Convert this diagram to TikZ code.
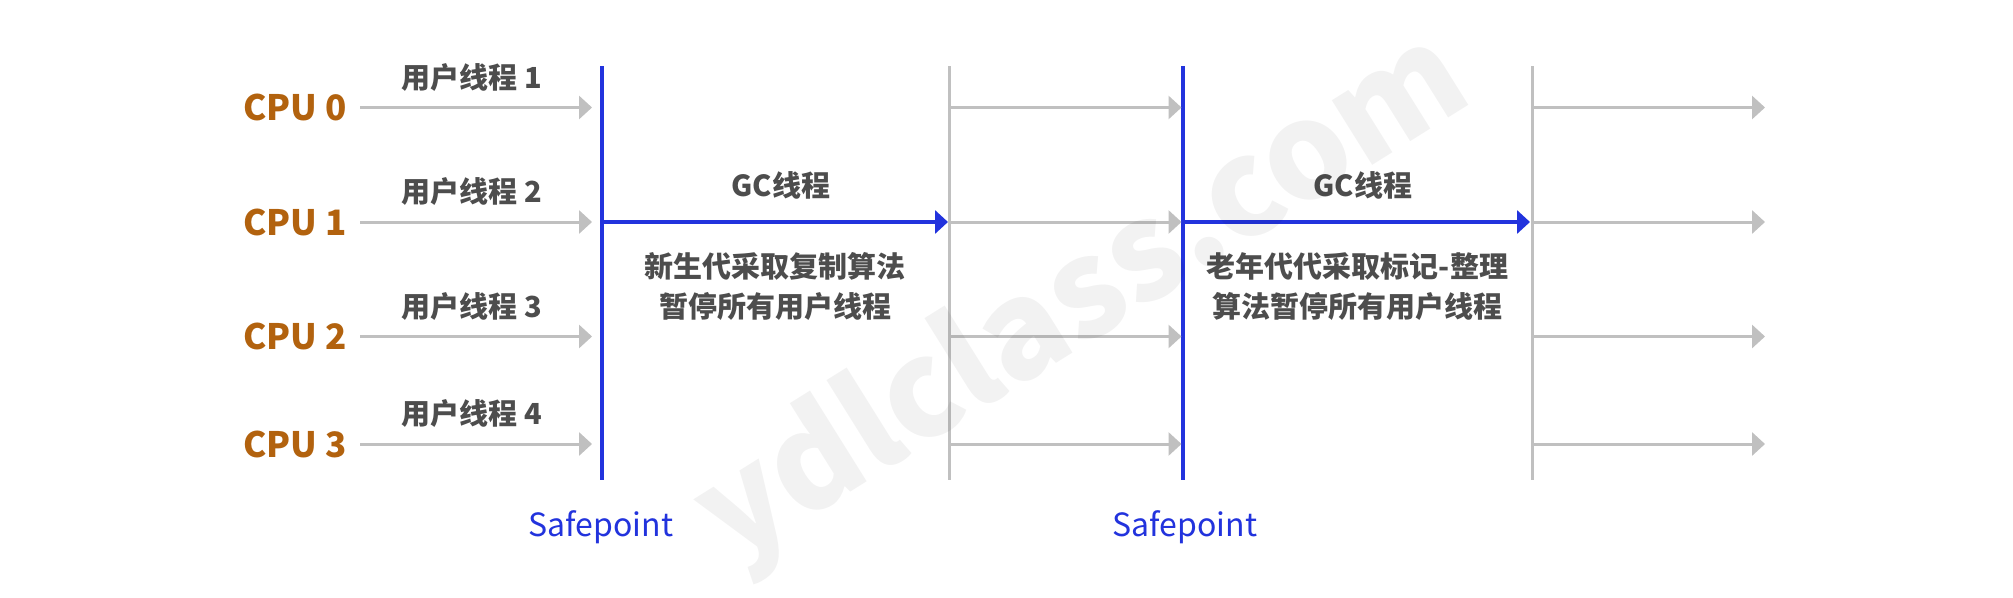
\documentclass[tikz,border=0pt]{standalone}
\usepackage{fontspec}
\setmainfont{Noto Sans CJK SC}
\usetikzlibrary{arrows.meta}
\definecolor{cpuc}{HTML}{B2620E}
\definecolor{txt}{HTML}{4D4D4D}
\definecolor{sblue}{HTML}{2233DD}
\definecolor{lgray}{HTML}{C0C0C0}
\tikzset{
  cpulabel/.style={anchor=east, inner sep=0pt, text=cpuc, font=\fontsize{35}{40}\selectfont\bfseries},
  thlabel/.style={inner sep=0pt, text=txt, font=\fontsize{29}{34}\selectfont\bfseries},
  desc/.style={inner sep=0pt, text=txt, align=center, font=\fontsize{29}{40}\selectfont\bfseries},
  splabel/.style={inner sep=0pt, text=sblue, font=\fontsize{32}{36}\selectfont},
  userarrow/.style={draw=lgray, line width=3pt, -{Triangle[length=13pt,width=23pt]}},
  gcarrow/.style={draw=sblue, line width=3.5pt, -{Triangle[length=13pt,width=23pt]}},
  safeline/.style={draw=sblue, line width=3.5pt},
  barline/.style={draw=lgray, line width=3pt},
  wm/.style={inner sep=0pt, text=black, opacity=0.05, rotate=32, font=\fontsize{134}{144}\selectfont\bfseries}
}
\begin{document}
\begin{tikzpicture}[x=1pt,y=-1pt]
\useasboundingbox[fill=white] (0,0) rectangle (2013,597);
% vertical lines
\coordinate (At) at (602,66);  \coordinate (Ab) at (602,480);
\coordinate (Bt) at (949,66);  \coordinate (Bb) at (949,480);
\coordinate (Ct) at (1183,66); \coordinate (Cb) at (1183,480);
\coordinate (Dt) at (1532,66); \coordinate (Db) at (1532,480);
\draw[safeline] (At) -- (Ab);
\draw[barline] (Bt) -- (Bb);
\draw[safeline] (Ct) -- (Cb);
\draw[barline] (Dt) -- (Db);
% rows
\foreach \i/\y/\t in {0/107.5/1,1/222/2,2/336.5/3,3/444/4}{
  \node[cpulabel] (cpu\i) at (347,\y) {CPU \i};
  \node[thlabel] (u\i) at (472,\y-30) {用户线程 \t};
  \coordinate (s\i) at (360,\y);
  \coordinate (e\i) at (592,\y);
  \coordinate (b\i) at (949,\y);
  \coordinate (c\i) at (1181.5,\y);
  \coordinate (d\i) at (1532,\y);
  \coordinate (f\i) at (1765,\y);
  \draw[userarrow] (s\i) -- (e\i);
  \draw[userarrow] (b\i) -- (c\i);
  \draw[userarrow] (d\i) -- (f\i);
}
% GC arrows
\coordinate (ga) at (602,222);  \coordinate (gb) at (948,222);
\coordinate (gc) at (1183,222); \coordinate (gd) at (1530,222);
\draw[gcarrow] (ga) -- (gb);
\draw[gcarrow] (gc) -- (gd);
\node[thlabel] (gc1) at (781,185) {GC线程};
\node[thlabel] (gc2) at (1363,185) {GC线程};
\node[desc] (d1) at (775,286.7) {新生代采取复制算法\\暂停所有用户线程};
\node[desc] (d2) at (1357.5,286.7) {老年代代采取标记-整理\\算法暂停所有用户线程};
\node[splabel] (sp1) at (601,527) {Safepoint};
\node[splabel] (sp2) at (1185,527) {Safepoint};
% watermark
\node[wm] (wmk) at (1084,300) {ydlclass.com};
\end{tikzpicture}
\end{document}
